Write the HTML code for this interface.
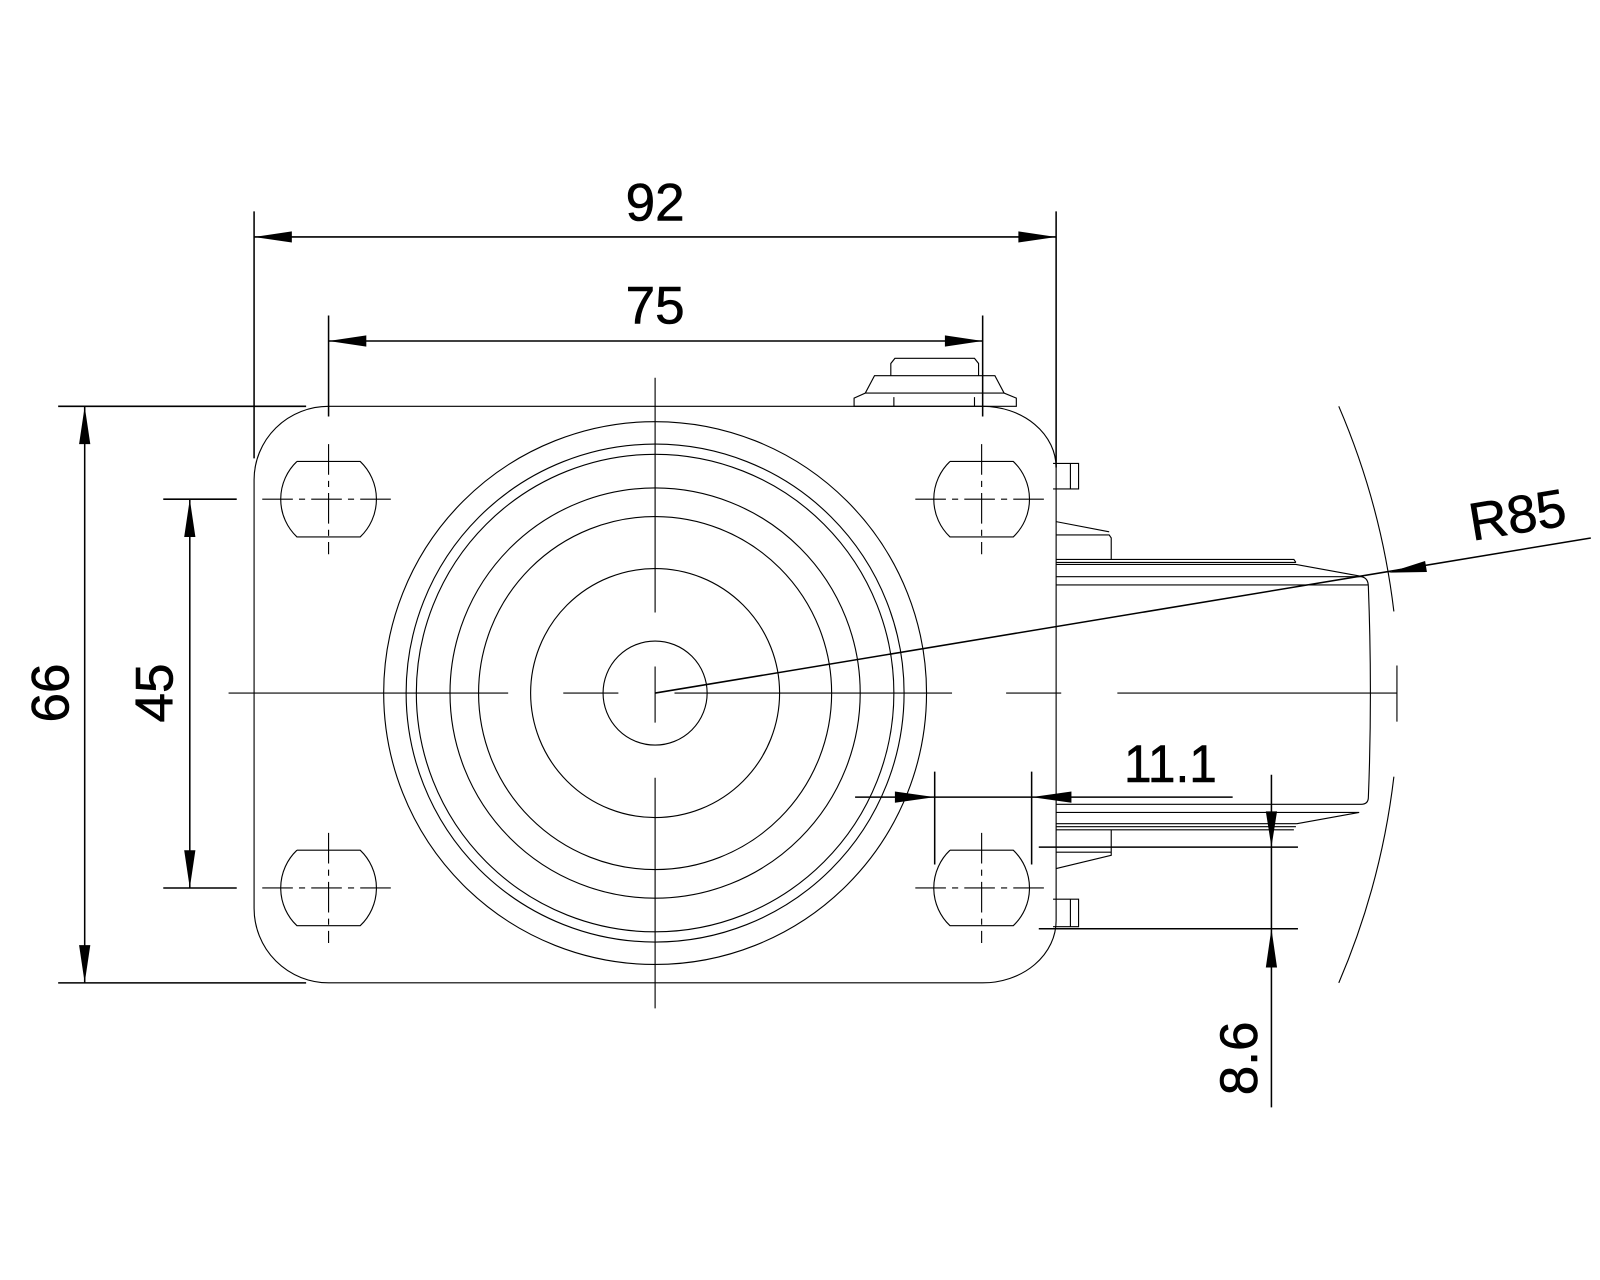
<!DOCTYPE html>
<html><head><meta charset="utf-8"><style>
html,body{margin:0;padding:0;background:#fff;}
svg{display:block;}
text{font-family:"Liberation Sans",Arial,sans-serif;fill:#000;stroke:#000;stroke-width:0.6;}
</style></head><body>
<svg width="1600" height="1280" viewBox="0 0 1568 1254" xmlns="http://www.w3.org/2000/svg">
<g fill="none" stroke="#000" stroke-width="1.1">
<path d="M322,398 H963 A72,60 0 0 1 1035,458 V902 A72,61 0 0 1 963,963 H322 A73,73 0 0 1 249,890 V470 A73,72 0 0 1 322,398"/>
<g>
<circle cx="642" cy="679" r="266"/>
<circle cx="642" cy="679" r="244"/>
<circle cx="642" cy="679" r="234"/>
<circle cx="642" cy="679" r="201"/>
<circle cx="642" cy="679" r="173"/>
<circle cx="642" cy="679" r="122"/>
<circle cx="642" cy="679" r="51"/>
</g>
<path d="M291,452 H353 A51,51 0 0 1 353,526 H291 A51,51 0 0 1 291,452"/>
<path d="M931,452 H993 A51,51 0 0 1 993,526 H931 A51,51 0 0 1 931,452"/>
<path d="M291,833 H353 A51,51 0 0 1 353,907 H291 A51,51 0 0 1 291,833"/>
<path d="M931,833 H993 A51,51 0 0 1 993,907 H931 A51,51 0 0 1 931,833"/>
<g stroke-dasharray="30 6 6 6">
<path d="M257,489 H387 M897,489 H1027 M257,870 H387 M897,870 H1027"/>
<path d="M322,435 V543 M962,435 V543 M322,816 V924 M962,816 V924"/>
</g>
<path d="M224,679 H498 M552,679 H606 M661,679 H933 M986,679 H1040 M1095,679 H1369"/>
<path d="M642,370 V600 M642,653 V708 M642,762 V988"/>
<path d="M1369,652 V707"/>
<path d="M837,398 V390 L848,385 H984 L996,390 V398 Z"/>
<path d="M876,398 V389 M955,398 V389"/>
<path d="M848,385 L857,368 H975 L984,385"/>
<path d="M873,368 V356 L877,351 H955 L959,356 V368"/>
<path d="M1032,454 H1057 V479 H1032 M1049,454 V479"/>
<path d="M1032,881 H1057 V908 H1032 M1049,881 V908"/>
<path d="M1035,511 L1087,521 M1035,524 H1087 L1089,527 V548"/>
<path d="M1035,548 H1268 L1270,551 M1035,551 H1270 M1035,553 H1270 L1336,565"/>
<path d="M1035,565 H1334 Q1341,566 1341,575 Q1343,627 1343,679 Q1343,731 1341,781 Q1341,788 1334,788 H1035"/>
<path d="M1035,573 H1341"/>
<path d="M1035,796 H1332 L1271,807 M1035,807 H1271 M1035,810 H1270 M1035,813 H1268"/>
<path d="M1089,813 V835 H1035 M1089,835 V838 L1035,851"/>
<path d="M1312,398 A727,727 0 0 1 1366,599"/>
<path d="M1366,761 A727,727 0 0 1 1312,963"/>
</g>
<g fill="none" stroke="#000" stroke-width="1.5">
<path d="M249,232 H1035 M249,207 V449 M1035,207 V458"/>
<path d="M322,334 H963 M322,309 V408 M963,309 V408"/>
<path d="M83,398 V963 M57,398 H300 M57,963 H300"/>
<path d="M186,489 V870 M160,489 H232 M160,870 H232"/>
<path d="M838,781 H1208 M916,756 V847 M1011,756 V847"/>
<path d="M1246,759 V1085 M1018,830 H1272 M1018,910 H1272"/>
<path d="M642,679 L1559,527"/>
</g>
<g fill="#000" stroke="none">
<polygon points="249,232 286,226.5 286,237.5"/>
<polygon points="1035,232 998,226.5 998,237.5"/>
<polygon points="322,334 359,328.5 359,339.5"/>
<polygon points="963,334 926,328.5 926,339.5"/>
<polygon points="83,398 77.5,435 88.5,435"/>
<polygon points="83,963 77.5,926 88.5,926"/>
<polygon points="186,489 180.5,526 191.5,526"/>
<polygon points="186,870 180.5,833 191.5,833"/>
<polygon points="916,781 877,775.5 877,786.5"/>
<polygon points="1011,781 1050,775.5 1050,786.5"/>
<polygon points="1246,830 1240.5,795 1251.5,795"/>
<polygon points="1246,910 1240.5,948 1251.5,948"/>
<polygon points="1361,561 1398.4,560.4 1396.6,549.6"/>
</g>
<g font-size="52">
<text x="642" y="216" text-anchor="middle">92</text>
<text x="642" y="317" text-anchor="middle">75</text>
<text x="1147" y="766" text-anchor="middle" textLength="91" lengthAdjust="spacingAndGlyphs">11.1</text>
<text transform="translate(67,679) rotate(-90)" text-anchor="middle">66</text>
<text transform="translate(169,679) rotate(-90)" text-anchor="middle">45</text>
<text transform="translate(1232,1037) rotate(-90)" text-anchor="middle">8.6</text>
<text transform="translate(1490,522) rotate(-9.4)" text-anchor="middle">R85</text>
</g>
</svg>
</body></html>
